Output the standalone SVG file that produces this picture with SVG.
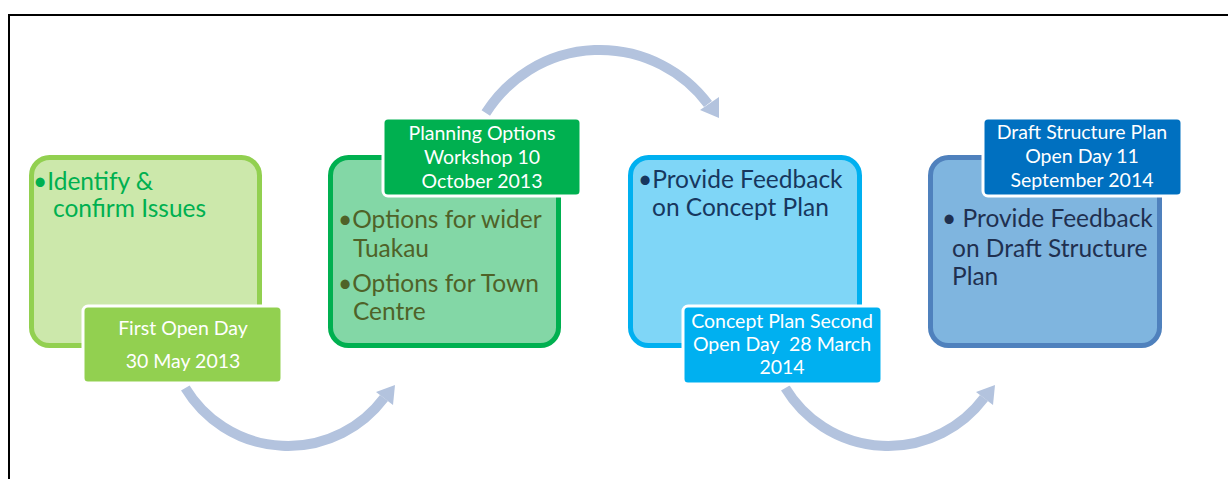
<svg xmlns="http://www.w3.org/2000/svg" width="1228" height="479" viewBox="0 0 1228 479">
<defs>
<style>
.main{font-family:Lato,"Open Sans","Liberation Sans",sans-serif;font-size:24.5px}
.lbl{font-family:Lato,"Open Sans","Liberation Sans",sans-serif;font-size:19.5px;fill:#ffffff;text-anchor:middle}
.arc{fill:none;stroke:#B3C3DE;stroke-width:10}
.head{fill:#B3C3DE}
.box{stroke-width:5}
.tag{stroke:#ffffff;stroke-width:3}
</style>
</defs>
<rect x="0" y="0" width="1228" height="479" fill="#ffffff"/>
<path d="M9,490 V15 H1240" fill="none" stroke="#000000" stroke-width="2"/>

<g id="connectors">
<path class="arc" d="M185.3,388 A120,120 0 0,0 384,398"/>
<polygon class="head" points="376,392 395,385 393,405"/>
<path class="arc" d="M485.8,113 A135,135 0 0,1 708,104"/>
<polygon class="head" points="700,110 719,97 719,118"/>
<path class="arc" d="M785.3,388 A120,120 0 0,0 984,398"/>
<polygon class="head" points="976,392 995,385 993,405"/>
</g>

<g id="node1">
<rect class="box" x="31.5" y="157.5" width="228" height="188" rx="18" fill="#CCE8AB" stroke="#92D050"/>
<text class="main" fill="#00B050"><tspan x="33" y="190">•Identify &amp;</tspan><tspan x="53" y="217">confirm Issues</tspan></text>
<rect class="tag" x="83" y="306" width="199" height="77" rx="5" fill="#92D050"/>
<text class="lbl"><tspan x="183" y="335">First Open Day</tspan><tspan x="183" y="368">30 May 2013</tspan></text>
</g>

<g id="node2">
<rect class="box" x="330.5" y="157.5" width="228" height="188" rx="18" fill="#83D7A6" stroke="#00B050"/>
<text class="main" fill="#4F6228"><tspan x="338" y="228">•Options for wider</tspan><tspan x="353" y="257">Tuakau</tspan><tspan x="338" y="292">•Options for Town</tspan><tspan x="353" y="320">Centre</tspan></text>
<rect class="tag" x="383" y="118" width="198" height="78" rx="5" fill="#00B050"/>
<text class="lbl"><tspan x="482" y="140">Planning Options</tspan><tspan x="482" y="164">Workshop 10</tspan><tspan x="482" y="188">October 2013</tspan></text>
</g>

<g id="node3">
<rect class="box" x="630.5" y="157.5" width="229" height="188" rx="18" fill="#7FD6F7" stroke="#00B0F0"/>
<text class="main" fill="#17375E"><tspan x="638" y="188">•Provide Feedback</tspan><tspan x="652" y="216">on Concept Plan</tspan></text>
<rect class="tag" x="683" y="306" width="199" height="78" rx="5" fill="#00B0F0"/>
<text class="lbl"><tspan x="782" y="328">Concept Plan Second</tspan><tspan x="782" y="351" xml:space="preserve">Open Day  28 March</tspan><tspan x="782" y="374">2014</tspan></text>
</g>

<g id="node4">
<rect class="box" x="930.5" y="157.5" width="229" height="188" rx="18" fill="#7FB5DF" stroke="#4F81BD"/>
<text class="main" fill="#1F3050"><tspan x="942" y="227">• Provide Feedback</tspan><tspan x="952" y="257">on Draft Structure</tspan><tspan x="952" y="285">Plan</tspan></text>
<rect class="tag" x="983" y="118" width="199" height="78" rx="5" fill="#0070C0"/>
<text class="lbl"><tspan x="1082" y="139">Draft Structure Plan</tspan><tspan x="1082" y="163">Open Day 11</tspan><tspan x="1082" y="187">September 2014</tspan></text>
</g>
</svg>
